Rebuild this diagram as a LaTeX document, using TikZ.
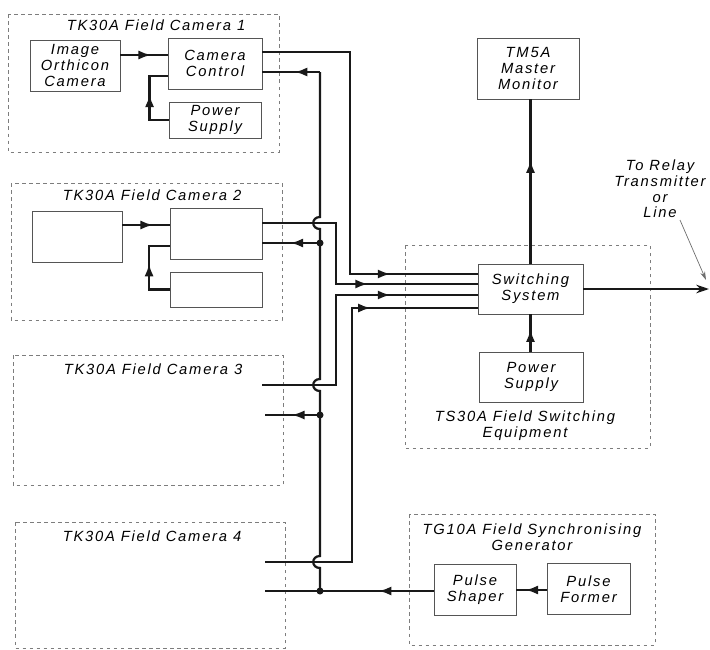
\documentclass[tikz,border=0pt]{standalone}
\usepackage{fontspec}
\usepackage{tikz}
\usetikzlibrary{arrows.meta, positioning, calc, decorations.markings}
\newfontfamily\labelfont[LetterSpace=12]{Liberation Sans}
\newcommand{\lblfont}{\labelfont\itshape\fontsize{10.5}{11.2}\selectfont}
\definecolor{inkblack}{RGB}{25,25,25}
\definecolor{boxgray}{RGB}{85,85,85}
\definecolor{framegray}{RGB}{125,125,125}
\definecolor{leadgray}{RGB}{110,110,110}
\tikzset{
  unit/.style={rectangle, draw=boxgray, line width=0.6pt, align=center,
    inner sep=0pt, minimum width=23mm, minimum height=12.75mm, font=\lblfont},
  frame/.style={draw=framegray, line width=0.6pt, dash pattern=on 2.5pt off 2.5pt},
  caption/.style={align=center, font=\lblfont, inner sep=1pt},
  wire/.style={line width=1.6pt, color=inkblack},
  tipat/.style={postaction={decorate}, decoration={markings,
    mark=at position #1 with {\arrow{Latex[length=9pt,width=6.5pt]}}}},
  dotfill/.style={fill=inkblack}
}
\begin{document}
\begin{tikzpicture}[x=0.25mm, y=-0.25mm]
  \useasboundingbox (0,0) rectangle (710,650);

  % Camera group frames
  \draw[frame] (8,14) rectangle (279,152);
  \draw[frame] (11,183) rectangle (282,320);
  \draw[frame] (13,355) rectangle (283,485);
  \draw[frame] (15,522) rectangle (285,648);
  \node[caption] (cam1title) at (156,25) {TK30A Field Camera 1};
  \node[caption] (cam2title) at (152,195) {TK30A Field Camera 2};
  \node[caption] (cam3title) at (153,369) {TK30A Field Camera 3};
  \node[caption] (cam4title) at (152,536) {TK30A Field Camera 4};

  % Camera 1
  \node[unit, minimum width=22.5mm] (ioc) at (75,65.5) {Image\\Orthicon\\Camera};
  \node[unit, minimum width=23.5mm] (cc1) at (215,63.5) {Camera\\Control};
  \node[unit, minimum height=9mm] (ps1) at (215,120) {Power\\Supply};
  \draw[wire, tipat=0.65] (ioc.east |- 0,55) -- (cc1.west |- 0,55);
  \draw[wire, tipat=0.55] (ps1.west) -- ++(-19,0) |- (cc1.west |- 0,76);

  % Camera 2
  \node[unit, minimum width=22.5mm] (cu2) at (77,236.5) {};
  \node[unit] (cm2) at (216,234) {};
  \node[unit, minimum height=8.75mm] (cp2) at (216.5,289.5) {};
  \draw[wire, tipat=0.65] (cu2.east |- 0,225) -- (cm2.west |- 0,225);
  \draw[wire, tipat=0.55] (cp2.west) -- ++(-21,0) |- (cm2.west |- 0,246);

  % Cameras 3 and 4 ports
  \coordinate (c3out) at (262,385);
  \coordinate (c3in) at (265,415);
  \coordinate (c4out) at (265,562);
  \coordinate (c4in) at (265,592);

  % Switching equipment
  \draw[frame] (405,245) rectangle (650,448);
  \node[unit, minimum width=26.25mm, minimum height=12.5mm] (ss) at (530.5,289) {Switching\\System};
  \node[unit, minimum width=26mm, minimum height=12.5mm] (ps2) at (531,377) {Power\\Supply};
  \node[caption] (swtitle) at (525,426) {TS30A Field Switching\\Equipment};
  \node[unit, minimum width=25.5mm, minimum height=15.25mm] (mm) at (528,68.5) {TM5A\\Master\\Monitor};
  \draw[wire, tipat=0.6] (ps2.north -| ss.south) -- (ss.south);
  \draw[wire, tipat=0.63] (ss.north) -- (ss.north |- mm.south);
  \coordinate (relay) at (709,289);
  \draw[wire, -{Stealth[length=9pt,width=6pt]}] (ss.east) -- (relay);
  \node[caption] (relaytext) at (660,189) {To Relay\\Transmitter\\or\\Line};
  \draw[leadgray, line width=0.5pt, -{Stealth[length=6pt,width=3.5pt]}] (680,220) -- (706,280);

  % Sync generator
  \draw[frame] (409,514) rectangle (655,645);
  \node[caption] (synctitle) at (532,537) {TG10A Field Synchronising\\Generator};
  \node[unit, minimum width=20.5mm] (psh) at (475,590) {Pulse\\Shaper};
  \node[unit, minimum width=20.75mm] (pfo) at (588.5,589) {Pulse\\Former};
  \draw[wire, tipat=0.7] (pfo.west |- psh.east) -- (psh.east);

  % Bus with junctions and hops
  \coordinate (bustop) at (320,72);
  \coordinate (j2) at (320,243);
  \coordinate (j3) at (320,415);
  \coordinate (j4) at (320,591);
  \draw[wire] (bustop) -- (320,217) .. controls (311,217) and (311,229) .. (320,229)
    -- (320,379) .. controls (311,379) and (311,391) .. (320,391)
    -- (320,556) .. controls (311,556) and (311,568) .. (320,568) -- (j4);
  \fill[dotfill] (j2) circle (2.5pt);
  \fill[dotfill] (j3) circle (2.5pt);
  \fill[dotfill] (j4) circle (2.5pt);

  % Returns to cameras
  \draw[wire, tipat=18pt] (bustop) -- (cc1.east |- bustop);
  \draw[wire, tipat=21pt] (j2) -- (cm2.east |- j2);
  \draw[wire, tipat=20pt] (j3) -- (c3in);
  \draw[wire, tipat=39pt] (psh.west |- j4) -- (j4) -- (c4in |- j4);

  % Camera outputs to switching
  \draw[wire, tipat=-62pt] (cc1.east |- 0,52) -| (350,274) -- (ss.west |- 0,274);
  \draw[wire, tipat=-78pt] (cm2.east |- 0,223) -| (336,284) -- (ss.west |- 0,284);
  \draw[wire, tipat=-62pt] (c3out) -| (336,295) -- (ss.west |- 0,295);
  \draw[wire, tipat=-76pt] (c4out) -| (352,308) -- (ss.west |- 0,308);
\end{tikzpicture}
\end{document}
